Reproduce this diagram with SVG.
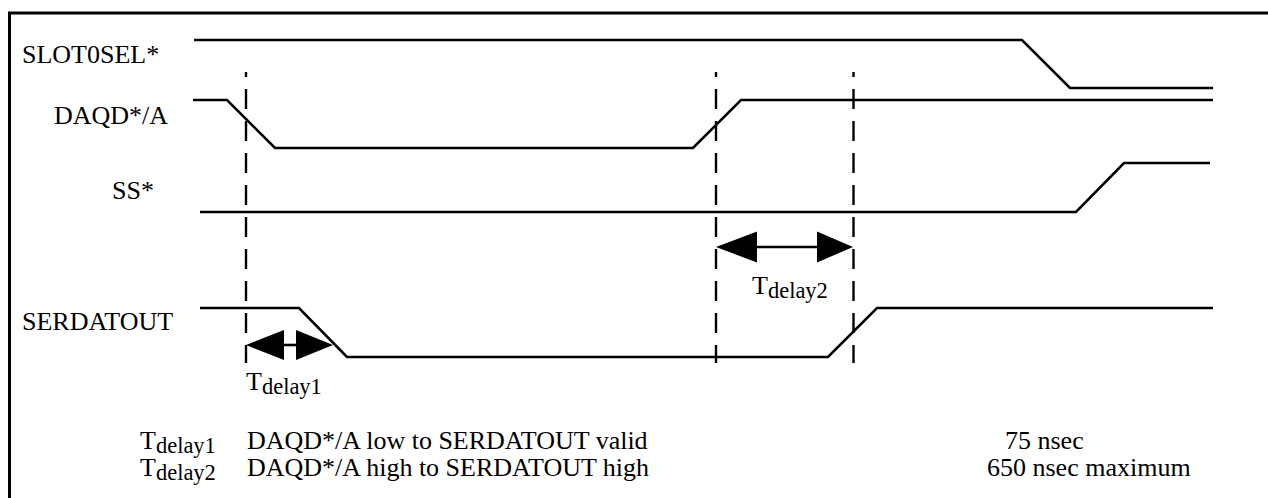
<svg xmlns="http://www.w3.org/2000/svg" width="1268" height="498" viewBox="0 0 1268 498">
<style>
.sig{fill:none;stroke:#000;stroke-width:2.6;stroke-linejoin:miter}
.dash{fill:none;stroke:#000;stroke-width:2.4;stroke-dasharray:20 12;stroke-dashoffset:15}
.arr{fill:none;stroke:#000;stroke-width:2.6}
.head{fill:#000;stroke:none}
text{font-family:'Liberation Serif','Times New Roman','DejaVu Serif',serif;font-size:26px;fill:#000}
.sub{font-size:22.5px}
.frame{fill:none;stroke:#000;stroke-width:3}
</style>
<rect width="1268" height="498" fill="#fff"/>
<path class="frame" d="M9.5 510 V13 H1280"/>

<g id="slot0sel">
<text font-family="Liberation Serif, serif" x="22" y="63">SLOT0SEL*</text>
<polyline class="sig" points="194,40 1022,40 1070,88 1213,88"/>
</g>
<g id="daqd">
<text font-family="Liberation Serif, serif" x="54" y="124">DAQD*/A</text>
<polyline class="sig" points="193,100 227,100 275,148 693,148 741,100 1213,100"/>
</g>
<g id="ss">
<text font-family="Liberation Serif, serif" x="112" y="199">SS*</text>
<polyline class="sig" points="200,212 1076,212 1124,163 1210,163"/>
</g>
<g id="serdatout">
<text font-family="Liberation Serif, serif" x="22" y="330">SERDATOUT</text>
<polyline class="sig" points="200,308 299,308 347,357 828,357 877,308 1213,308"/>
</g>

<g id="connectors">
<line class="dash" x1="246" y1="72" x2="246" y2="363"/>
<line class="dash" x1="716" y1="72" x2="716" y2="363"/>
<line class="dash" x1="853.5" y1="72" x2="853.5" y2="363"/>
<g id="tdelay1-arrow">
<line class="arr" x1="280" y1="345" x2="300" y2="345"/>
<polygon class="head" points="246,345 284,330 284,360"/>
<polygon class="head" points="333,345 296,330 296,360"/>
</g>
<g id="tdelay2-arrow">
<line class="arr" x1="750" y1="247" x2="820" y2="247"/>
<polygon class="head" points="716,247 757,231.5 757,262.5"/>
<polygon class="head" points="853,247 817,231.5 817,262.5"/>
</g>
</g>

<g id="tdelay1-label">
<text font-family="Liberation Serif, serif" x="246" y="390">T<tspan class="sub" dy="4">delay1</tspan></text>
</g>
<g id="tdelay2-label">
<text font-family="Liberation Serif, serif" x="752" y="294">T<tspan class="sub" dy="4">delay2</tspan></text>
</g>

<g id="legend" font-family="Liberation Serif, serif">
<text font-family="Liberation Serif, serif" x="140" y="449">T<tspan class="sub" dy="4">delay1</tspan></text>
<text font-family="Liberation Serif, serif" x="247" y="449">DAQD*/A low to SERDATOUT valid</text>
<text font-family="Liberation Serif, serif" x="1005" y="449">75 nsec</text>
<text font-family="Liberation Serif, serif" x="140" y="476">T<tspan class="sub" dy="4">delay2</tspan></text>
<text font-family="Liberation Serif, serif" x="247" y="476">DAQD*/A high to SERDATOUT high</text>
<text font-family="Liberation Serif, serif" x="987" y="476">650 nsec maximum</text>
</g>
</svg>
